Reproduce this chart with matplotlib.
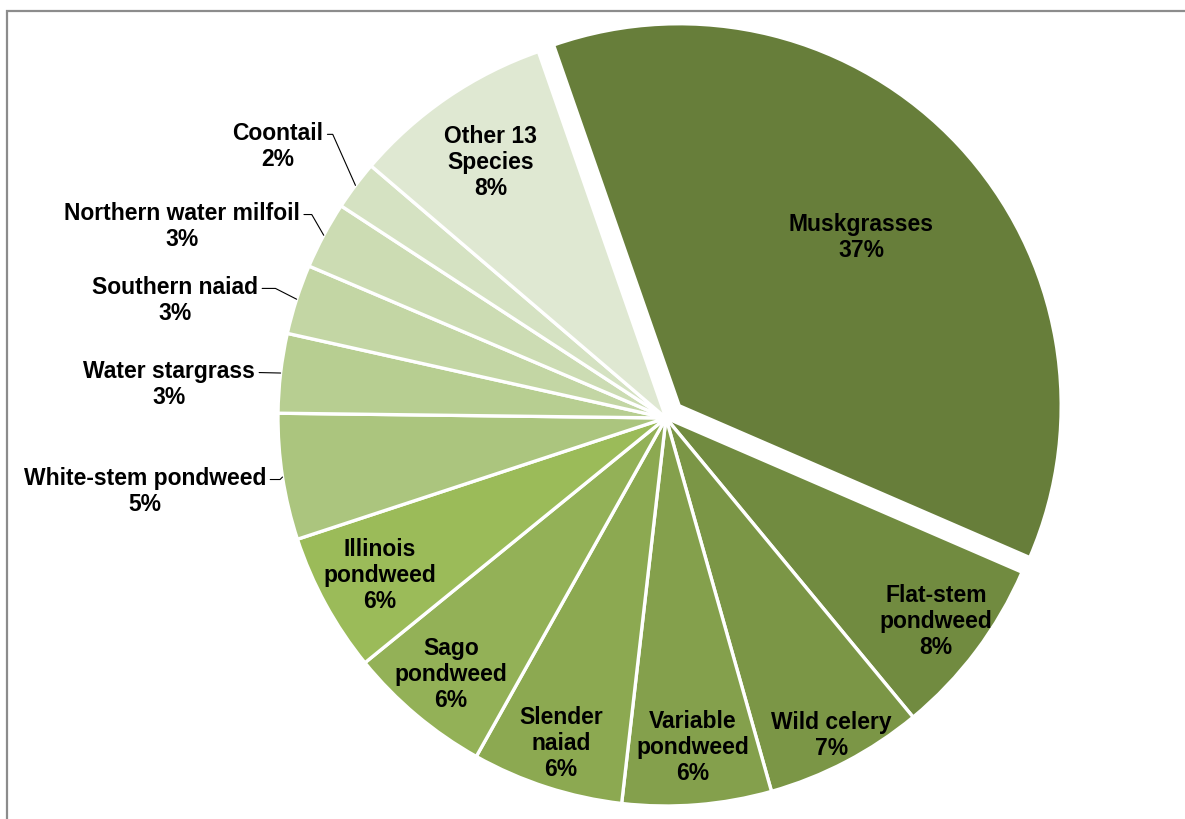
import math
import matplotlib
matplotlib.use("Agg")
import matplotlib.pyplot as plt

# ---- data ----
species = ["Muskgrasses", "Flat-stem\npondweed", "Wild celery", "Variable\npondweed",
           "Slender\nnaiad", "Sago\npondweed", "Illinois\npondweed", "White-stem pondweed",
           "Water stargrass", "Southern naiad", "Northern water milfoil", "Coontail",
           "Other 13\nSpecies"]
shares = [36.8, 7.5, 6.6, 6.2, 6.3, 6.0, 5.8, 5.25, 3.3, 2.9, 2.8, 2.05, 8.4]
pct_labels = ["37%", "8%", "7%", "6%", "6%", "6%", "6%", "5%", "3%", "3%", "3%", "2%", "8%"]

# ---- style ----
colors = ["#677E3A", "#718B40", "#7B9646", "#84A04C", "#8CA951", "#93B157", "#9BBB59",
          "#ABC57E", "#B7CE91", "#C3D6A4", "#CCDCB3", "#D5E2C2", "#DFE8D2"]
explode = [18, 0, 0, 0, 0, 0, 0, 0, 0, 0, 0, 0, 0]
# inside labels: radial fraction; outside labels: None
inside_frac = [0.64, 0.87, 0.92, 0.85, 0.88, 0.86, 0.84, None, None, None, None, None, 0.80]
# outside labels: (clockwise angle from top, distance factor, leader end angle)
outside = {7: (262.1, 1.356, 45), 8: (274.0, 1.284, None), 9: (283.6, 1.302, -27),
           10: (291.7, 1.343, -60), 11: (305.1, 1.223, -66)}

W, H = 1185, 820
CX, CY, R = 666, H - 419, 388
R_EXPLODED = 382

plt.rcParams['font.family'] = ['Liberation Sans', 'DejaVu Sans']
fig = plt.figure(figsize=(W / 100, H / 100), dpi=100)
ax = fig.add_axes([0, 0, 1, 1])

wedges, _ = ax.pie(shares, colors=colors, startangle=109.2, counterclock=False,
                   center=(CX, CY), radius=R, explode=explode,
                   wedgeprops=dict(edgecolor="white", linewidth=2.4))
wedges[0].set_radius(R_EXPLODED)
ax.set_xlim(0, W)
ax.set_ylim(0, H)
ax.set_aspect('equal')
ax.axis('off')

fs = 16.5
ls = 1.17
for i, w in enumerate(wedges):
    thm = math.radians(0.5 * (w.theta1 + w.theta2))
    wx, wy = w.center
    text = f"{species[i]}\n{pct_labels[i]}"
    if inside_frac[i] is not None:
        f = inside_frac[i]
        ax.text(wx + f * R * math.cos(thm), wy + f * R * math.sin(thm), text,
                ha='center', va='center', fontsize=fs, fontweight='bold',
                multialignment='center', linespacing=ls)
    else:
        a, d, angB = outside[i]
        th = math.radians(90 - a)
        tx, ty = CX + d * R * math.cos(th), CY + d * R * math.sin(th)
        ex, ey = wx + w.r * math.cos(thm), wy + w.r * math.sin(thm)
        if angB is None:
            cs = "arc3,rad=0"
        else:
            cs = f"angle,angleA=0,angleB={angB},rad=0"
        ax.annotate(text, xy=(ex, ey), xytext=(tx, ty), ha='center', va='center',
                    fontsize=fs, fontweight='bold', multialignment='center',
                    linespacing=ls,
                    arrowprops=dict(arrowstyle='-', color='black', lw=0.8,
                                    shrinkA=1, shrinkB=0, relpos=(1.0, 0.72),
                                    connectionstyle=cs))

# chart frame (top and left visible)
ax.plot([7, 7, W + 10], [-10, H - 12, H - 12], color="#8C8C8C", lw=1.6,
        clip_on=False, solid_joinstyle='miter')

fig.savefig("out.png", dpi=100)
